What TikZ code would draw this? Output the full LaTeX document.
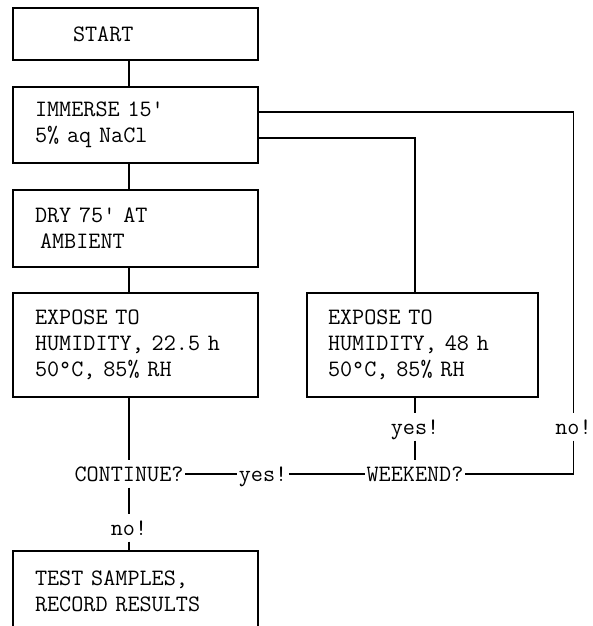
\documentclass[tikz,border=0pt]{standalone}
\usepackage{tikz}
\usetikzlibrary{positioning,calc}
\newcommand{\flowfont}{\fontsize{23.5pt}{26pt}\selectfont\ttfamily}

\begin{document}
\begin{tikzpicture}[x=1pt,y=-1pt,line width=1.1pt,
  box/.style={draw,text width=201pt,inner xsep=22pt,inner ysep=0pt,
              align=left,font=\flowfont},
  wbox/.style={box,text width=189pt,inner xsep=21pt},
  lbl/.style={font=\flowfont,inner xsep=1pt,inner ysep=6pt,
              text height=14pt,text depth=0pt}]
  \useasboundingbox (0,0) rectangle (593,626);
  \clip (0,0) rectangle (593,626);
  \node[box,minimum height=52pt] (start) at (135.5,34) {\hspace*{38pt}START};
  \node[box,minimum height=76pt] (immerse) at (135.5,125) {IMMERSE 15\textquotesingle\\5\% aq NaCl};
  \node[box,minimum height=77pt] (dry) at (135.5,228.5) {DRY 75\textquotesingle{} AT\\\hspace*{5pt}AMBIENT};
  \node[box,minimum height=104pt] (expl) at (135.5,345) {EXPOSE TO\\HUMIDITY, 22.5 h\\50\textdegree C, 85\% RH};
  \node[wbox,minimum height=104pt] (expr) at (422.5,345) {EXPOSE TO\\HUMIDITY, 48 h\\50\textdegree C, 85\% RH};
  \node[box,minimum height=80pt] (test) at (135.5,591) {TEST SAMPLES,\\RECORD RESULTS};
  \node[lbl] (cont) at (129,474) {CONTINUE?};
  \node[lbl] (yesm) at (263,474) {yes!};
  \node[lbl] (week) at (415,474) {WEEKEND?};
  \node[lbl] (yesr) at (415,427) {yes!};
  \node[lbl,inner xsep=0pt] (nor) at (573.5,427) {no!};
  \node[lbl] (nol) at (129,528) {no!};
  % main column
  \draw (start.south -| cont) -- (immerse.north -| cont);
  \draw (immerse.south -| cont) -- (dry.north -| cont);
  \draw (dry.south -| cont) -- (expl.north -| cont);
  \draw (expl.south -| cont) -- (cont);
  \draw (cont) -- (nol);
  \draw (nol) -- (test.north -| nol);
  % loop back
  \draw (cont) -- (yesm);
  \draw (yesm) -- (week);
  \draw ([yshift=-13pt]immerse.east) -| (expr.north -| week);
  \draw (expr.south -| week) -- (yesr);
  \draw (yesr) -- (week);
  \draw ([yshift=13pt]immerse.east) -| (nor);
  \draw (nor) |- (week);
\end{tikzpicture}
\end{document}
